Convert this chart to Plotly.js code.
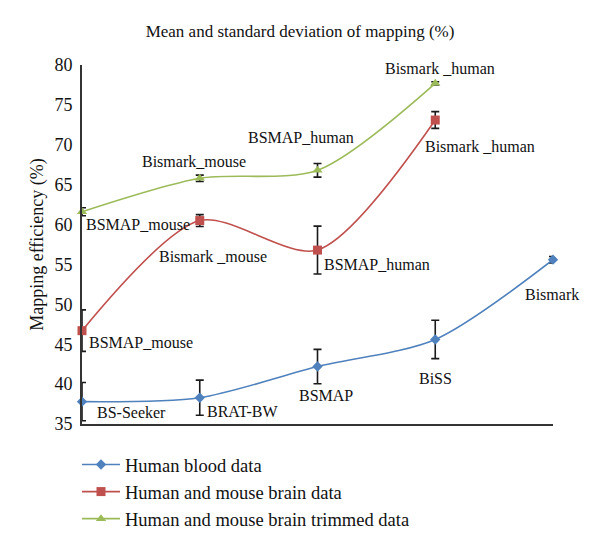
<!DOCTYPE html>
<html>
<head>
<meta charset="utf-8">
<script src="https://cdn.plot.ly/plotly-3.0.1.min.js"></script>
<style>html,body{margin:0;padding:0;background:#fff;}#chart{width:600px;height:547px;}</style>
</head>
<body>
<div id="chart"></div>
<script>
// ---- data ----
const categories = ["c1", "c2", "c3", "c4", "c5"];

const bloodLabels = ["BS-Seeker", "BRAT-BW", "BSMAP", "BiSS", "Bismark"];
const bloodMean = [37.8, 38.3, 42.2, 45.6, 55.6];
const bloodSD = [2.4, 2.2, 2.15, 2.4, 0.4];

const brainLabels = ["BSMAP_mouse", "Bismark _mouse", "BSMAP_human", "Bismark _human"];
const brainMean = [46.7, 60.5, 56.8, 73.1];
const brainSD = [2.6, 0.75, 3.0, 1.05];

const trimLabels = ["BSMAP_mouse", "Bismark_mouse", "BSMAP_human", "Bismark _human"];
const trimMean = [61.6, 65.8, 66.8, 77.7];
const trimSD = [0.5, 0.4, 0.85, 0.2];

const seriesNames = ["Human blood data", "Human and mouse brain data", "Human and mouse brain trimmed data"];

// ---- label placement (pixel offsets from each point) ----
const bloodPos = [["left", 13, -11], ["left", 5, -14], ["center", 8, -29], ["center", 0, -39], ["center", -1, -35]];
const brainPos = [["left", 5, -12], ["center", 13, -36], ["left", 4, -14], ["left", -12, -26]];
const trimPos = [["left", 2, -13], ["center", -6, 17], ["center", -17, 33], ["center", 5, 15]];

const FONT = "Liberation Serif, Times New Roman, serif";
const colors = ["#4F81BD", "#C0504D", "#9BBB59"];

function trace(name, means, sds, color, symbol, size) {
  return {
    type: "scatter",
    mode: "lines+markers",
    name: name,
    x: categories.slice(0, means.length),
    y: means,
    cliponaxis: false,
    line: {color: color, width: 1.6, shape: "spline", smoothing: 0.8},
    marker: {color: color, symbol: symbol, size: size},
    error_y: {type: "data", array: sds, visible: true, color: "#1a1a1a", thickness: 1.6, width: 4}
  };
}

const data = [
  trace(seriesNames[0], bloodMean, bloodSD, colors[0], "diamond", 8),
  trace(seriesNames[1], brainMean, brainSD, colors[1], "square", 9),
  trace(seriesNames[2], trimMean, trimSD, colors[2], "triangle-up", 9)
];

const annotations = [];
function addLabels(labels, means, pos) {
  labels.forEach((t, i) => {
    annotations.push({
      x: i, y: means[i], xref: "x", yref: "y",
      text: t, showarrow: false,
      xanchor: pos[i][0], yanchor: "middle",
      xshift: pos[i][1], yshift: pos[i][2],
      font: {family: FONT, size: 16, color: "#111"}
    });
  });
}
addLabels(bloodLabels, bloodMean, bloodPos);
addLabels(brainLabels, brainMean, brainPos);
addLabels(trimLabels, trimMean, trimPos);

const layout = {
  width: 600, height: 547,
  margin: {l: 82, r: 47, t: 65, b: 9},
  paper_bgcolor: "#fff", plot_bgcolor: "#fff",
  font: {family: FONT, color: "#111"},
  title: {text: "Mean and standard deviation of mapping (%)", font: {family: FONT, size: 17, color: "#111"}, x: 0.5, xanchor: "center", y: 0.943, yanchor: "middle"},
  xaxis: {
    type: "category", categoryarray: categories, range: [0, 4],
    showticklabels: false, ticks: "", showgrid: false, zeroline: false,
    showline: true, linecolor: "#333", linewidth: 2
  },
  yaxis: {
    domain: [0.241, 1],
    range: [35, 80], dtick: 5, tick0: 35,
    showgrid: false, zeroline: false, ticks: "",
    showline: true, linecolor: "#333", linewidth: 2,
    tickfont: {family: FONT, size: 18, color: "#111"},
    ticklabelstandoff: 4,
    title: {text: "Mapping efficiency (%)", font: {family: FONT, size: 18, color: "#111"}, standoff: 6}
  },
  showlegend: true,
  legend: {
    x: -0.0106, xanchor: "left", y: 0, yanchor: "bottom",
    font: {family: FONT, size: 18.5, color: "#111"},
    itemwidth: 38,
    bgcolor: "rgba(0,0,0,0)", tracegroupgap: 0
  },
  annotations: annotations
};

Plotly.newPlot("chart", data, layout, {displayModeBar: false, staticPlot: true});
</script>
</body>
</html>
